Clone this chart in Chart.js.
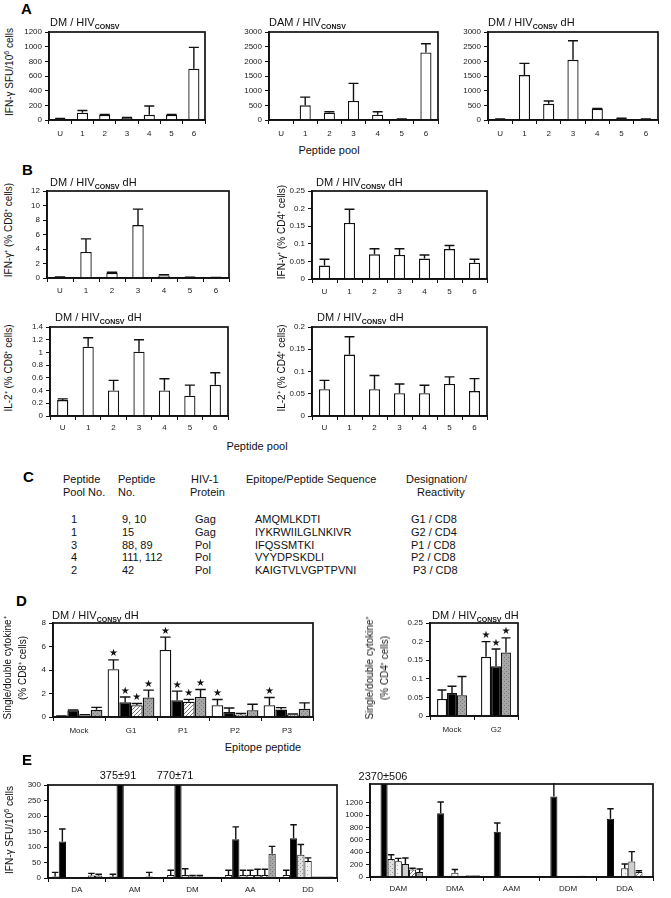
<!DOCTYPE html>
<html><head><meta charset="utf-8">
<script src="https://cdn.jsdelivr.net/npm/chart.js@4"></script>
<style>
body{margin:0;background:#fff;width:671px;height:898px;overflow:hidden;position:relative;font-family:"Liberation Sans",Arial,sans-serif;color:#111}
.t{position:absolute;white-space:nowrap;font-size:11px;line-height:11px;color:#111}
.L{position:absolute;font-weight:bold;font-size:15px;line-height:15px;color:#000}
.box{position:absolute}
sub{font-size:7px;vertical-align:-3px;font-weight:bold;line-height:0}
.rot{position:absolute;transform:translate(-50%,-50%) rotate(-90deg);white-space:nowrap;font-size:10px;line-height:15px;text-align:center;color:#111}
.c{position:absolute;transform:translateX(-50%);white-space:nowrap;font-size:11px;line-height:11px;color:#111}
</style></head><body>
<script>
// ---------- DATA ----------
const poolLabels = ['U','1','2','3','4','5','6'];
const a1Values = [15,100,70,30,70,70,700];
const a1Err    = [20,130,75,35,190,75,990];
const a2Values = [0,500,250,650,180,30,2300];
const a2Err    = [0,780,280,1250,280,35,2600];
const a3Values = [30,1530,550,2050,380,50,30];
const a3Err    = [35,1930,650,2700,390,60,35];
const b1Values = [0.1,3.6,0.7,7.3,0.35,0.1,0.05];
const b1Err    = [0.15,5.4,0.8,9.5,0.45,0.12,0.08];
const b2Values = [0.038,0.159,0.07,0.068,0.058,0.085,0.046];
const b2Err    = [0.056,0.198,0.086,0.086,0.068,0.095,0.056];
const b3Values = [0.25,1.09,0.40,1.01,0.40,0.32,0.49];
const b3Err    = [0.27,1.23,0.56,1.2,0.585,0.486,0.68];
const b4Values = [0.06,0.138,0.06,0.051,0.051,0.072,0.056];
const b4Err    = [0.08,0.178,0.091,0.072,0.069,0.088,0.084];

const tblPool = ['1','1','3','4','2'];
const tblPeptide = ['9, 10','15','88, 89','111, 112','42'];
const tblProtein = ['Gag','Gag','Pol','Pol','Pol'];
const tblSequence = ['AMQMLKDTI','IYKRWIILGLNKIVR','IFQSSMTKI','VYYDPSKDLI','KAIGTVLVGPTPVNI'];
const tblDesignation = ['G1 / CD8','G2 / CD4','P1 / CD8','P2 / CD8','P3 / CD8'];

const d1Labels = ['Mock','G1','P1','P2','P3'];
const d1White = [0.05,4.06,5.7,1.0,1.0];
const d1WhiteErr = [0.08,4.86,6.8,1.49,1.66];
const d1Black = [0.55,1.26,1.43,0.43,0.63];
const d1BlackErr = [0.6,1.7,2.2,0.77,0.8];
const d1Hatch = [0.15,1.0,1.3,0.2,0.2];
const d1HatchErr = [0.2,1.15,1.5,0.3,0.25];
const d1Gray = [0.62,1.66,1.71,0.57,0.71];
const d1GrayErr = [0.82,2.29,2.34,1.09,1.2];
const d1WhiteStar = [0,1,1,1,1];
const d1OtherStar = [0,1,1,0,0];

const d2Labels = ['Mock','G2'];
const d2White = [0.046,0.159]; const d2WhiteErr = [0.07,0.2];
const d2Black = [0.062,0.134]; const d2BlackErr = [0.08,0.18];
const d2Gray = [0.056,0.171];  const d2GrayErr = [0.106,0.21];
const d2Star = [0,1];

const e1Labels = ['DA','AM','DM','AA','DD'];
const e1S0 = [5,5,10,10,10];      const e1S0Err = [18,12,25,25,25];
const e1S1 = [118,375,770,125,128]; const e1S1Err = [158,466,841,165,172];
const e1S2 = [3,3,10,10,75];      const e1S2Err = [null,null,30,25,108];
const e1S3 = [3,3,5,10,55];       const e1S3Err = [null,null,8,25,65];
const e1S4 = [2,3,5,10,5];        const e1S4Err = [null,null,8,28,null];
const e1S5 = [8,5,4,10,5];        const e1S5Err = [15,18,null,28,null];
const e1S6 = [8,3,4,78,5];        const e1S6Err = [12,null,null,102,null];

const e2Labels = ['DAM','DMA','AAM','DDM','DDA'];
const e2S0 = [20,5,5,10,5];       const e2S0Err = [null,null,null,null,null];
const e2S1 = [2370,1030,730,1300,940]; const e2S1Err = [2876,1210,870,1560,1100];
const e2S2 = [290,20,10,15,5];    const e2S2Err = [360,null,null,null,null];
const e2S3 = [253,70,10,10,140];  const e2S3Err = [300,120,null,null,210];
const e2S4 = [210,20,10,5,250];   const e2S4Err = [307,null,null,null,410];
const e2S5 = [120,30,10,20,80];   const e2S5Err = [140,null,null,null,100];
const e2S6 = [80,30,10,15,10];    const e2S6Err = [130,null,null,null,null];

// ---------- helpers ----------
Chart.defaults.font.family = "'Liberation Sans', Arial, sans-serif";
Chart.defaults.font.size = 8;
Chart.defaults.color = '#222';

function pat(kind){
  const c=document.createElement('canvas'); c.width=c.height=4; const g=c.getContext('2d');
  if(kind==='hatch'){
    g.fillStyle='#fff'; g.fillRect(0,0,4,4);
    g.strokeStyle='#777'; g.lineWidth=1;
    g.beginPath(); g.moveTo(-1,1); g.lineTo(1,-1); g.moveTo(0,4); g.lineTo(4,0); g.moveTo(3,5); g.lineTo(5,3); g.stroke();
  } else if(kind==='gray'){
    g.fillStyle='#a6a6a6'; g.fillRect(0,0,4,4);
    g.fillStyle='#777'; g.fillRect(0,0,1,1); g.fillRect(2,2,1,1);
  } else if(kind==='light'){
    g.fillStyle='#e0e0e0'; g.fillRect(0,0,4,4);
    g.fillStyle='#999'; g.fillRect(0,0,1,1); g.fillRect(2,2,1,1);
  } else if(kind==='lighter'){
    g.fillStyle='#f2f2f2'; g.fillRect(0,0,4,4);
    g.fillStyle='#aaa'; g.fillRect(1,1,1,1);
  }
  return g.createPattern(c,'repeat');
}

const framePlugin={id:'frame',afterDraw(ch){const a=ch.chartArea,c=ch.ctx;c.save();c.strokeStyle='#111';c.lineWidth=1.7;c.strokeRect(a.left,a.top,a.right-a.left,a.bottom-a.top);c.restore();}};
const errPlugin={id:'errs',afterDatasetsDraw(ch){
  const c=ch.ctx,a=ch.chartArea,ys=ch.scales.y;
  c.save();c.beginPath();c.rect(a.left,a.top-1,a.right-a.left,a.bottom-a.top+1);c.clip();
  c.strokeStyle='#111';c.lineWidth=1.4;
  ch.data.datasets.forEach((ds,di)=>{
    if(!ds.err)return; const m=ch.getDatasetMeta(di);
    m.data.forEach((b,i)=>{const e=ds.err[i]; if(e==null||e<=ds.data[i])return;
      const y1=ys.getPixelForValue(e), hw=b.width*0.45;
      c.beginPath();c.moveTo(b.x,b.y);c.lineTo(b.x,y1);c.moveTo(b.x-hw,y1);c.lineTo(b.x+hw,y1);c.stroke();});
  });
  c.restore();
  c.save();c.fillStyle='#111';c.font="10px 'DejaVu Sans'";c.textAlign='center';c.textBaseline='bottom';
  ch.data.datasets.forEach((ds,di)=>{
    if(!ds.stars)return; const m=ch.getDatasetMeta(di);
    m.data.forEach((b,i)=>{if(!ds.stars[i])return; const v=Math.max(ds.data[i],ds.err?ds.err[i]||0:0);
      c.fillText('★',b.x,ys.getPixelForValue(v)-1);});
  });
  c.restore();
}};
function fmt(v){return String(Math.round(v*1000)/1000);}

function makeChart(box,cfg){
  const padT=8,padR=6,yW=cfg.yW||30,xH=cfg.xH||22;
  const div=document.createElement('div');div.className='box';
  div.style.left=(box[0]-yW)+'px';div.style.top=(box[1]-padT)+'px';
  div.style.width=(box[2]-box[0]+yW+padR)+'px';div.style.height=(box[3]-box[1]+padT+xH)+'px';
  const cv=document.createElement('canvas');div.appendChild(cv);document.body.appendChild(div);
  const yOpt={min:0,max:cfg.max,grid:{display:true,drawOnChartArea:false,tickLength:4,tickColor:'#111'},
    border:{display:true,color:'#111',width:1.7},
    ticks:{stepSize:cfg.step,padding:3,callback:fmt,font:{size:cfg.yFont||8}},
    afterFit:s=>{s.width=yW;}};
  if(cfg.hideAbove!=null) yOpt.afterBuildTicks=s=>{s.ticks=s.ticks.filter(t=>t.value<=cfg.hideAbove);};
  return new Chart(cv,{type:'bar',data:{labels:cfg.labels,datasets:cfg.datasets},options:{
    responsive:true,maintainAspectRatio:false,animation:false,
    layout:{padding:{top:padT,right:padR,left:0,bottom:0}},
    plugins:{legend:{display:false},tooltip:{enabled:false}},
    datasets:{bar:{categoryPercentage:cfg.cat,barPercentage:cfg.bar,borderColor:'#111',borderWidth:1.3,borderSkipped:'bottom'}},
    scales:{
      x:{grid:{display:true,drawOnChartArea:false,drawTicks:true,tickLength:4,tickColor:'#111',offset:true},
        border:{display:true,color:'#111',width:1.7},
        ticks:{padding:cfg.xPad??4,font:{size:cfg.xFont||8},maxRotation:0,autoSkip:false},
        afterFit:s=>{s.height=xH;}},
      y:yOpt
    }},plugins:[framePlugin,errPlugin]});
}
function single(v,e){return [{data:v,err:e,backgroundColor:'#fff'}];}

// ---------- Panel A ----------
makeChart([49,32,205,120],{labels:poolLabels,datasets:single(a1Values,a1Err),max:1200,step:200,cat:1,bar:0.5,xPad:5});
makeChart([269,32,438,120],{labels:poolLabels,datasets:single(a2Values,a2Err),max:3000,step:500,cat:1,bar:0.46,xPad:5});
makeChart([488,32,658,120],{labels:poolLabels,datasets:single(a3Values,a3Err),max:3000,step:500,cat:1,bar:0.46,xPad:5});
// ---------- Panel B ----------
makeChart([47,191,229,278],{labels:poolLabels,datasets:single(b1Values,b1Err),max:12,step:2,cat:1,bar:0.44,xPad:4});
makeChart([312,191,487,279],{labels:poolLabels,datasets:single(b2Values,b2Err),max:0.25,step:0.05,cat:1,bar:0.44,xPad:4,yW:32});
makeChart([50,327,228,416],{labels:poolLabels,datasets:single(b3Values,b3Err),max:1.4,step:0.2,cat:1,bar:0.44,xPad:3});
makeChart([312,327,487,416],{labels:poolLabels,datasets:single(b4Values,b4Err),max:0.2,step:0.05,cat:1,bar:0.44,xPad:3,yW:32});
// ---------- Panel D ----------
const HATCH=pat('hatch'),GRAY=pat('gray'),LIGHT=pat('light'),LIGHTER=pat('lighter');
makeChart([53,623,313,717],{labels:d1Labels,max:8,step:1,cat:0.9,bar:1,xPad:5,datasets:[
  {data:d1White,err:d1WhiteErr,stars:d1WhiteStar,backgroundColor:'#fff'},
  {data:d1Black,err:d1BlackErr,stars:d1OtherStar,backgroundColor:'#000'},
  {data:d1Hatch,err:d1HatchErr,stars:d1OtherStar,backgroundColor:HATCH},
  {data:d1Gray,err:d1GrayErr,stars:d1OtherStar,backgroundColor:GRAY}]});
makeChart([430,623,518,716],{labels:d2Labels,max:0.25,step:0.05,cat:0.68,bar:1,xPad:5,yW:32,datasets:[
  {data:d2White,err:d2WhiteErr,stars:d2Star,backgroundColor:'#fff'},
  {data:d2Black,err:d2BlackErr,stars:d2Star,backgroundColor:'#000'},
  {data:d2Gray,err:d2GrayErr,stars:d2Star,backgroundColor:GRAY}]});
// ---------- Panel E ----------
const eFills=['#fff','#000',LIGHT,LIGHTER,'#cfcfcf',HATCH,GRAY];
function eSets(vals,errs){return vals.map((v,i)=>({data:v,err:errs[i],backgroundColor:eFills[i],borderWidth:1}));}
makeChart([48,785,337,878],{labels:e1Labels,max:300,step:50,cat:0.88,bar:1,xPad:3,
  datasets:eSets([e1S0,e1S1,e1S2,e1S3,e1S4,e1S5,e1S6],[e1S0Err,e1S1Err,e1S2Err,e1S3Err,e1S4Err,e1S5Err,e1S6Err])});
makeChart([370,784,653,877],{labels:e2Labels,max:1500,step:200,hideAbove:1400,cat:0.88,bar:1,xPad:3,
  datasets:eSets([e2S0,e2S1,e2S2,e2S3,e2S4,e2S5,e2S6],[e2S0Err,e2S1Err,e2S2Err,e2S3Err,e2S4Err,e2S5Err,e2S6Err])});

// ---------- Table C ----------
function cell(txt,x,y){const d=document.createElement('div');d.className='t';d.style.left=x+'px';d.style.top=y+'px';d.textContent=txt;document.body.appendChild(d);}
const rowY=[514,527,540,552,565];
rowY.forEach((y,i)=>{cell(tblPool[i],71,y);cell(tblPeptide[i],122,y);cell(tblProtein[i],195,y);cell(tblSequence[i],255,y);cell(tblDesignation[i],411+(i==4?2:0),y);});
</script>

<div class="L" style="left:21px;top:1px">A</div>
<div class="t" style="left:50px;top:17px">DM / HIV<sub>CONSV</sub></div>
<div class="t" style="left:269px;top:17px">DAM / HIV<sub>CONSV</sub></div>
<div class="t" style="left:488px;top:17px">DM / HIV<sub>CONSV</sub> dH</div>
<div class="rot" style="left:8px;top:72px">IFN-γ SFU/10<sup style="font-size:7px">6</sup> cells</div>
<div class="c" style="left:329px;top:145px">Peptide pool</div>

<div class="L" style="left:22px;top:162px">B</div>
<div class="t" style="left:50px;top:177px">DM / HIV<sub>CONSV</sub> dH</div>
<div class="t" style="left:316px;top:177px">DM / HIV<sub>CONSV</sub> dH</div>
<div class="t" style="left:55px;top:312px">DM / HIV<sub>CONSV</sub> dH</div>
<div class="t" style="left:317px;top:312px">DM / HIV<sub>CONSV</sub> dH</div>
<div class="rot" style="left:8px;top:230px">IFN-γ⁺ (% CD8⁺ cells)</div>
<div class="rot" style="left:281px;top:232px">IFN-γ⁺ (% CD4⁺ cells)</div>
<div class="rot" style="left:8px;top:368px">IL-2⁺ (% CD8⁺ cells)</div>
<div class="rot" style="left:281px;top:368px">IL-2⁺ (% CD4⁺ cells)</div>
<div class="c" style="left:257px;top:441px">Peptide pool</div>

<div class="L" style="left:23px;top:469px">C</div>
<div class="t" style="left:63px;top:474px">Peptide</div>
<div class="t" style="left:63px;top:487px">Pool No.</div>
<div class="t" style="left:118px;top:474px">Peptide</div>
<div class="t" style="left:118px;top:487px">No.</div>
<div class="t" style="left:191px;top:474px">HIV-1</div>
<div class="t" style="left:190px;top:487px">Protein</div>
<div class="t" style="left:246px;top:474px">Epitope/Peptide Sequence</div>
<div class="t" style="left:406px;top:474px">Designation/</div>
<div class="t" style="left:417px;top:487px">Reactivity</div>

<div class="L" style="left:16px;top:593px">D</div>
<div class="t" style="left:52px;top:610px">DM / HIV<sub>CONSV</sub> dH</div>
<div class="t" style="left:432px;top:610px">DM / HIV<sub>CONSV</sub> dH</div>
<div class="rot" style="left:15px;top:668px">Single/double cytokine⁺<br>(% CD8⁺ cells)</div>
<div class="rot" style="left:377px;top:668px">Single/double cytokine⁺<br>(% CD4⁺ cells)</div>
<div class="c" style="left:263px;top:742px">Epitope peptide</div>

<div class="L" style="left:22px;top:752px">E</div>
<div class="rot" style="left:8px;top:830px">IFN-γ SFU/10<sup style="font-size:7px">6</sup> cells</div>
<div class="c" style="left:118px;top:770px">375±91</div>
<div class="c" style="left:175px;top:770px">770±71</div>
<div class="c" style="left:383px;top:771px">2370±506</div>
</body></html>
